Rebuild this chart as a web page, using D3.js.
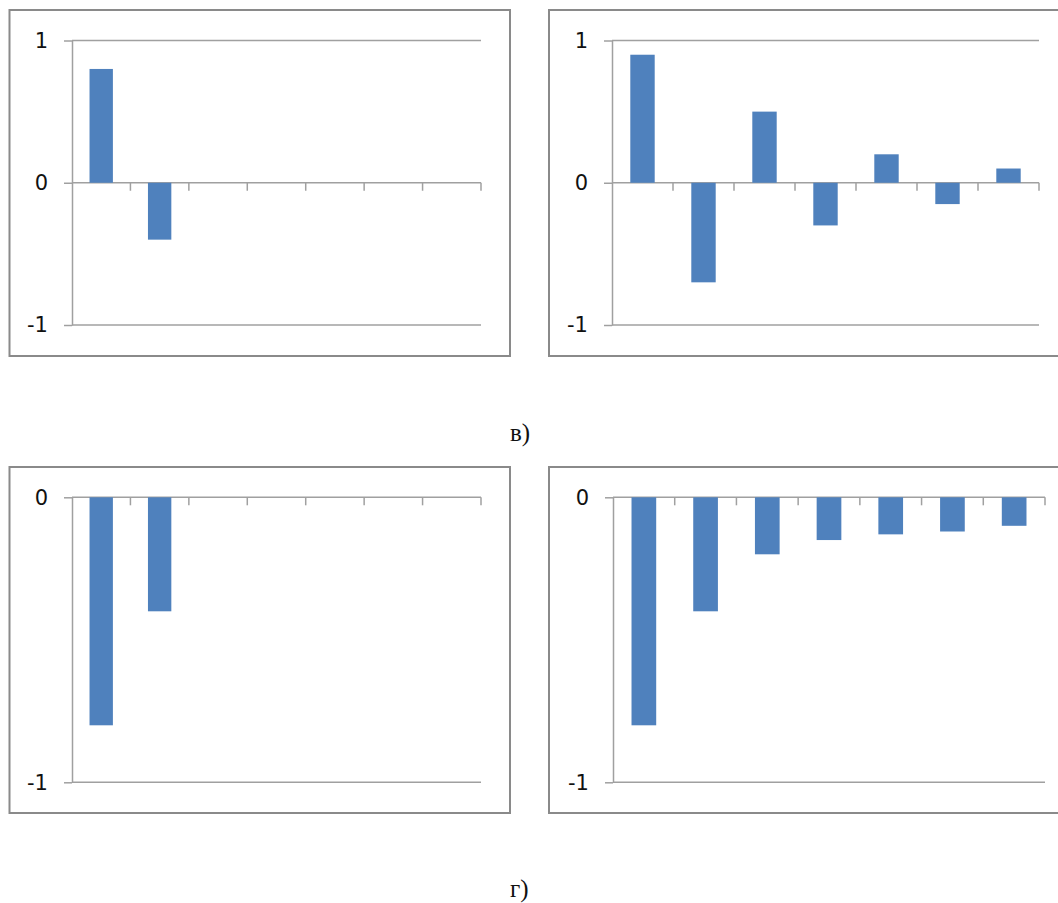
<!DOCTYPE html>
<html>
<head>
<meta charset="utf-8">
<script src="https://cdn.jsdelivr.net/npm/d3@7"></script>
<style>
  html, body { margin: 0; padding: 0; background: #fff; }
  svg { display: block; }
</style>
</head>
<body>
<svg id="chart" width="1058" height="903"></svg>
<script>
// ---- data ----
const categories = ["1", "2", "3", "4", "5", "6", "7"];
const valuesTopLeft = [0.8, -0.4];
const valuesTopRight = [0.9, -0.7, 0.5, -0.3, 0.2, -0.15, 0.1];
const valuesBottomLeft = [-0.8, -0.4];
const valuesBottomRight = [-0.8, -0.4, -0.2, -0.15, -0.13, -0.12, -0.1];
const ticksTop = [-1, 0, 1];
const ticksBottom = [-1, 0];
const captions = ["в)", "г)"];

// ---- layout ----
const svg = d3.select("#chart");
const barColor = "#4f81bd";
const lineColor = "#a0a0a0";
const frameColor = "#8a8a8a";

const panels = [
  { values: valuesTopLeft, ticks: ticksTop, domain: [-1, 1],
    frame: [9.5, 10, 500.5, 346], plot: { x0: 72, x1: 481, yTop: 40.5, yBot: 325 } },
  { values: valuesTopRight, ticks: ticksTop, domain: [-1, 1],
    frame: [549, 10, 540, 346], plot: { x0: 612, x1: 1039, yTop: 40.5, yBot: 325 } },
  { values: valuesBottomLeft, ticks: ticksBottom, domain: [-1, 0],
    frame: [9.5, 467, 500.5, 346], plot: { x0: 72, x1: 481, yTop: 497.3, yBot: 782.3 } },
  { values: valuesBottomRight, ticks: ticksBottom, domain: [-1, 0],
    frame: [549, 467, 540, 346], plot: { x0: 613, x1: 1045, yTop: 497.3, yBot: 782.3 } }
];

panels.forEach(p => {
  // frame
  svg.append("rect")
    .attr("x", p.frame[0]).attr("y", p.frame[1])
    .attr("width", p.frame[2]).attr("height", p.frame[3])
    .attr("fill", "none").attr("stroke", frameColor).attr("stroke-width", 2);

  const x = d3.scaleBand().domain(categories).range([p.plot.x0, p.plot.x1]).padding(0);
  const y = d3.scaleLinear().domain(p.domain).range([p.plot.yBot, p.plot.yTop]);
  const g = svg.append("g");

  // gridlines
  g.selectAll("line.grid").data(p.ticks).join("line")
    .attr("class", "grid")
    .attr("x1", p.plot.x0).attr("x2", p.plot.x1)
    .attr("y1", d => y(d)).attr("y2", d => y(d))
    .attr("stroke", lineColor).attr("stroke-width", 1.5);

  // y axis
  const yAxis = d3.axisLeft(y).tickValues(p.ticks).tickSize(8).tickSizeOuter(0)
    .tickPadding(16).tickFormat(d => String(d));
  const ag = g.append("g").attr("transform", `translate(${p.plot.x0},0)`).call(yAxis);
  ag.select(".domain").attr("stroke", lineColor).attr("stroke-width", 1.5);
  ag.selectAll(".tick line").attr("stroke", lineColor).attr("stroke-width", 1.5);
  ag.selectAll(".tick text")
    .attr("fill", "#111")
    .style("font-family", "'DejaVu Sans', sans-serif")
    .style("font-size", "21px");

  // category ticks on zero line
  const y0 = y(0);
  g.selectAll("line.xtick").data(categories).join("line")
    .attr("class", "xtick")
    .attr("x1", d => x(d) + x.bandwidth()).attr("x2", d => x(d) + x.bandwidth())
    .attr("y1", y0).attr("y2", y0 + 8)
    .attr("stroke", lineColor).attr("stroke-width", 1.5);

  // bars
  const bw = x.bandwidth() / 2.5;
  g.selectAll("rect.bar").data(p.values).join("rect")
    .attr("class", "bar")
    .attr("x", (d, i) => x(categories[i]) + (x.bandwidth() - bw) / 2)
    .attr("width", bw)
    .attr("y", d => Math.min(y(d), y0))
    .attr("height", d => Math.abs(y(d) - y0))
    .attr("fill", barColor);
});

// captions
const captionY = [441, 897];
captions.forEach((c, i) => {
  svg.append("text")
    .attr("x", 510).attr("y", captionY[i])
    .attr("fill", "#111")
    .style("font-family", "'Liberation Serif', 'Times New Roman', serif")
    .style("font-size", "25px")
    .text(c);
});
</script>
</body>
</html>
